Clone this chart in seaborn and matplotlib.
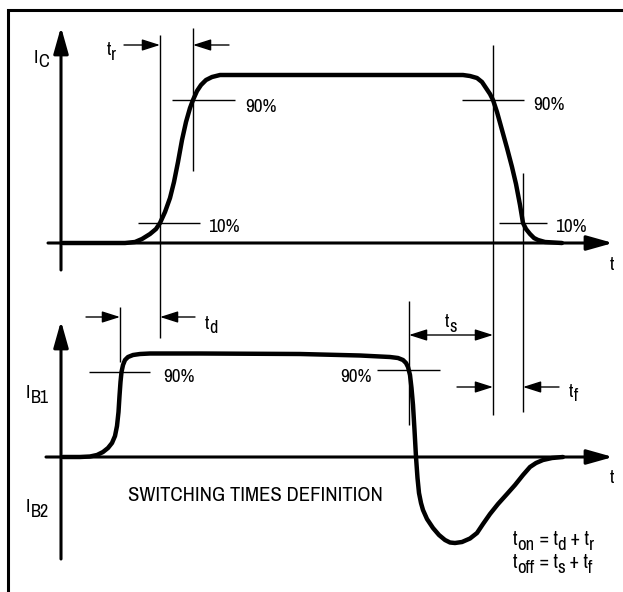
import matplotlib
matplotlib.use("Agg")
import matplotlib.pyplot as plt
import seaborn as sns
from matplotlib import font_manager

# ---------------- data (diagram units, y grows downward) ----------------
ic_t = [63, 100, 125, 135, 142, 150, 156, 160, 165, 170, 174, 178, 182, 186, 190, 193,
        197, 201, 206, 212, 220, 240, 300, 400, 455, 463, 470, 477, 482, 486, 490, 493,
        497, 502, 507, 512, 516, 520, 523, 526, 530, 534, 538, 545, 562]
ic_v = [243, 243, 243, 242, 239, 234, 229, 223, 212, 198, 182, 162, 140, 122, 108, 100,
        91, 85, 80, 77, 75, 75, 75, 75, 75, 75, 76, 78, 82, 88, 94, 100,
        112, 130, 148, 167, 184, 205, 223, 229, 234, 238, 240, 242, 243]

ib_t = [63, 80, 90, 97, 103, 108, 112, 115, 117, 118.5, 119.5, 120.5, 121.5, 123, 125, 128,
        133, 140, 150, 200, 300, 360, 390, 398, 403, 406, 408, 410, 411.5, 413, 414.5,
        416, 417.5, 419, 421, 423, 427, 433, 439, 445, 450, 455, 462, 470, 477, 483,
        490, 498, 507, 515, 523, 530, 536, 543, 552, 563]
ib_v = [457, 457, 456.5, 455, 452, 448, 443, 436, 426, 412, 396, 382, 372, 365, 360, 357,
        355, 354, 353.5, 353.5, 354, 355.5, 357, 358, 360, 363, 367, 375, 388, 405, 430,
        457, 478, 493, 503, 510, 519, 528, 535, 540, 542.5, 543, 542, 538.5, 533, 524,
        514, 504, 494, 485, 475, 467, 463, 460, 458, 457]

# marker levels / times
t_rise10, t_rise90 = 160, 193
t_fall90, t_fall10 = 493, 523
t_on_start, t_on90 = 120, 160
t_off90 = 409
lvl_ic90, lvl_ic10 = 100, 223
lvl_ib90_on, lvl_ib90_off = 372, 370

pct90 = "90%"
pct10 = "10%"
title = "SWITCHING TIMES DEFINITION"

# ---------------- style ----------------
sns.set_theme(style="white")
avail = {f.name for f in font_manager.fontManager.ttflist}
candidates = ["Nimbus Sans Narrow", "Liberation Sans Narrow", "Arial Narrow",
              "Pragati Narrow", "Archivo Narrow", "Roboto Condensed", "PT Sans Narrow",
              "Liberation Sans"]
main_font = next(c for c in candidates if c in avail)
plt.rcParams["font.family"] = [main_font, "DejaVu Sans"]

W, H = 623, 592
fig = plt.figure(figsize=(W / 100, H / 100), dpi=100)
ax = fig.add_axes([0, 0, 1, 1])
ax.set_xlim(0, W)
ax.set_ylim(H, 0)
ax.axis("off")

K = "black"
THIN = 1.0
AXW = 2.2
WAVE = 3.2

# frame (top and left edges visible)
ax.plot([8, 8, W + 5], [H + 5, 10, 10], color=K, lw=2.2, solid_joinstyle="miter")

def arrow(x0, y0, x1, y1, hl=1.6, hw=0.45, lw=AXW):
    ax.annotate("", xy=(x1, y1), xytext=(x0, y0),
                arrowprops=dict(arrowstyle=f"-|>,head_length={hl},head_width={hw}",
                                color=K, lw=lw, shrinkA=0, shrinkB=0,
                                mutation_scale=10))

def line(xs, ys, lw=THIN):
    ax.plot(xs, ys, color=K, lw=lw, solid_capstyle="butt")

# axes
arrow(61, 270, 61, 27)
arrow(48, 243, 613, 243)
arrow(61, 559, 61, 321)
arrow(46, 457, 613, 457)

# waveforms
sns.lineplot(x=ic_t, y=ic_v, sort=False, estimator=None, color=K, lw=WAVE, ax=ax,
             solid_joinstyle="round", solid_capstyle="round")
sns.lineplot(x=ib_t, y=ib_v, sort=False, estimator=None, color=K, lw=WAVE, ax=ax,
             solid_joinstyle="round", solid_capstyle="round")

# thin reference lines, top panel
line([t_rise10, t_rise10], [35, 338])
line([t_rise90, t_rise90], [28, 171])
line([172, 235], [lvl_ic90, lvl_ic90])
line([138, 200], [lvl_ic10, lvl_ic10])
line([t_fall90, t_fall90], [45, 415])
line([t_fall10, t_fall10], [173, 412])
line([462, 524], [lvl_ic90, lvl_ic90])
line([499, 547], [lvl_ic10, lvl_ic10])

# tr arrows
arrow(124, 45, t_rise10, 45, hl=1.1, hw=0.35, lw=THIN)
arrow(229, 45, t_rise90, 45, hl=1.1, hw=0.35, lw=THIN)

# bottom panel reference lines
line([t_on_start, t_on_start], [307, 362])
line([89, 150], [lvl_ib90_on, lvl_ib90_on])
arrow(86, 317, t_on_start, 317, hl=1.1, hw=0.35, lw=THIN)
arrow(195, 317, t_on90, 317, hl=1.1, hw=0.35, lw=THIN)

line([t_off90, t_off90], [301, 425])
line([377, 440], [lvl_ib90_off, lvl_ib90_off])
ax.annotate("", xy=(t_fall90, 335), xytext=(t_off90, 335),
            arrowprops=dict(arrowstyle="<|-|>,head_length=1.1,head_width=0.35",
                            color=K, lw=THIN, shrinkA=0, shrinkB=0, mutation_scale=10))
arrow(457, 387, t_fall90, 387, hl=1.1, hw=0.35, lw=THIN)
arrow(559, 387, t_fall10, 387, hl=1.1, hw=0.35, lw=THIN)

# ---------------- text ----------------
FS = 15
SUB_DY = 5
fig.canvas.draw()
renderer = fig.canvas.get_renderer()
inv = ax.transData.inverted()

def chain(x, y, pieces, fs=FS, sub_dy=SUB_DY):
    for s, sub in pieces:
        t = ax.text(x, y + (sub_dy if sub else 0), s, fontsize=fs * (0.95 if sub else 1),
                    ha="left", va="baseline", color=K)
        bb = t.get_window_extent(renderer)
        x = inv.transform((bb.x1, bb.y0))[0]

def txt(x, y, s, fs=FS):
    ax.text(x, y, s, fontsize=fs, ha="left", va="baseline", color=K)

chain(34, 63, [("I", False), ("C", True)], sub_dy=4)
chain(107, 55, [("t", False), ("r", True)])
txt(245, 112, pct90)
txt(208, 232, pct10)
txt(533, 110, pct90)
txt(555, 232, pct10)
txt(610, 270, "t")

chain(205, 329, [("t", False), ("d", True)], sub_dy=4)
txt(163, 382, pct90)
txt(340, 382, pct90)
chain(445, 327, [("t", False), ("s", True)])
chain(569, 397, [("t", False), ("f", True)], sub_dy=4)
txt(610, 483, "t")
chain(26, 398, [("I", False), ("B1", True)])
chain(26, 512, [("I", False), ("B2", True)])
txt(128, 501, title, fs=16.2)

chain(513, 545, [("t", False), ("on", True), (" = t", False), ("d", True),
                 (" + t", False), ("r", True)], fs=15.5)
chain(513, 568, [("t", False), ("off", True), (" = t", False), ("s", True),
                 (" + t", False), ("f", True)], fs=15.5)

fig.savefig("out.png", dpi=100)
